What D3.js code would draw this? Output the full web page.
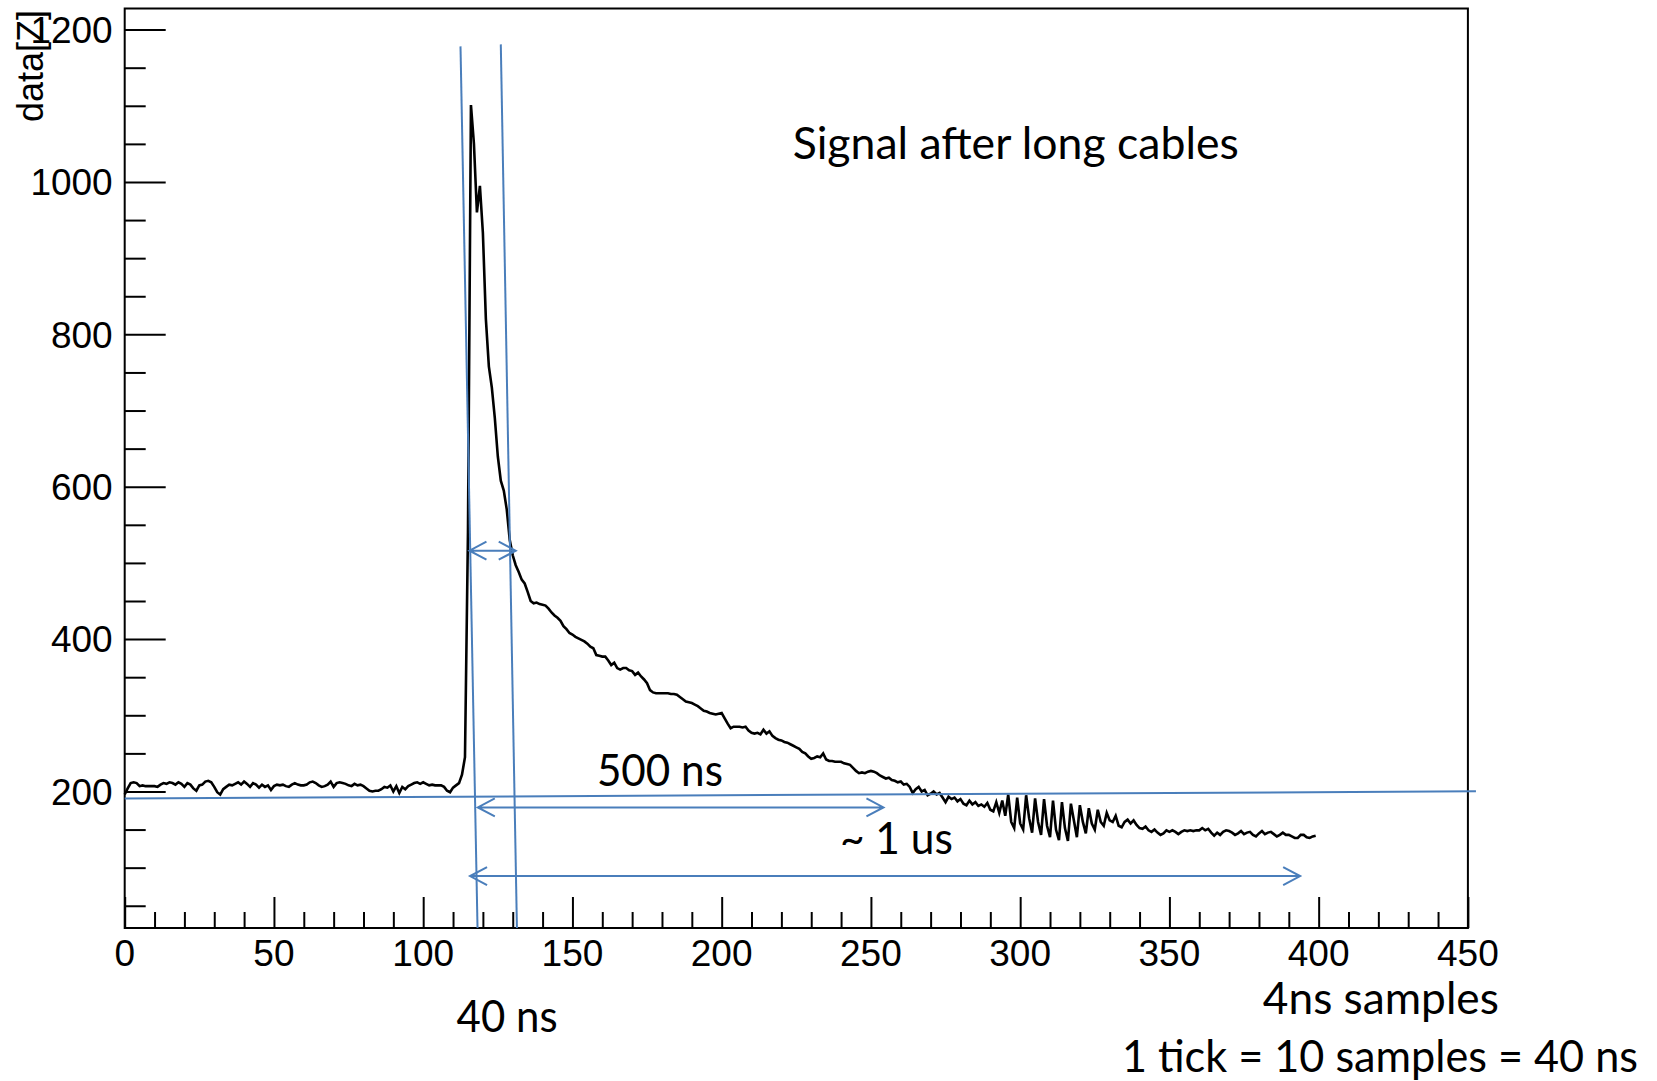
<!DOCTYPE html>
<html>
<head>
<meta charset="utf-8">
<script src="https://cdn.jsdelivr.net/npm/d3@7"></script>
<style>
  body { margin: 0; background: #fff; }
  svg { display: block; }
</style>
</head>
<body>
<svg id="chart"></svg>
<script>
// ADC trace, one value per 4 ns sample (index = sample number)
let signal = [
  196, 204, 211, 212, 211, 207, 208, 207, 207, 207,
  207, 206, 209, 211, 210, 212, 211, 209, 212, 210,
  206, 211, 209, 204, 201, 208, 209, 213, 214, 212,
  206, 199, 196, 203, 206, 209, 208, 210, 212, 209,
  213, 210, 206, 211, 209, 205, 209, 206, 208, 202,
  207, 209, 208, 209, 207, 206, 209, 211, 209, 208,
  208, 209, 212, 213, 211, 208, 206, 207, 209, 213,
  206, 211, 212, 211, 210, 208, 207, 210, 208, 209,
  207, 204, 201, 200, 201, 201, 203, 206, 205, 208,
  200, 207, 198, 206, 203, 207, 209, 211, 212, 210,
  212, 210, 208, 209, 208, 208, 208, 206, 201, 199,
  205, 208, 211, 222, 245, 540, 1101, 1050, 960, 995,
  933, 820, 758, 730, 690, 640, 608, 595, 570, 530,
  510, 497, 488, 478, 473, 462, 450, 447, 448, 446,
  445, 444, 440, 435, 431, 428, 424, 417, 413, 408,
  406, 403, 401, 399, 397, 394, 390, 388, 379, 378,
  377, 377, 372, 366, 369, 362, 360, 362, 362, 359,
  358, 353, 356, 351, 347, 342, 333, 330, 329, 329,
  329, 329, 329, 328, 328, 327, 324, 321, 318, 317,
  316, 314, 312, 309, 306, 305, 303, 302, 301, 302,
  303, 296, 289, 283, 285, 285, 285, 284, 285, 280,
  277, 276, 277, 275, 281, 276, 279, 273, 270, 268,
  267, 265, 264, 262, 260, 258, 256, 252, 250, 246,
  243, 244, 246, 245, 250, 242, 240, 240, 239, 239,
  239, 237, 236, 235, 231, 227, 224, 225, 224, 226,
  227, 226, 224, 221, 219, 217, 218, 215, 214, 212,
  213, 209, 210, 206, 198, 203, 206, 200, 202, 195,
  197, 200, 196, 198, 192, 186, 193, 190, 192, 187,
  190, 184, 182, 188, 183, 186, 181, 183, 180, 185,
  176, 174, 186, 172, 188, 168, 196, 160, 152, 192,
  158, 150, 195, 165, 146, 191, 160, 143, 190, 155,
  140, 188, 150, 136, 186, 152, 135, 184, 162, 140,
  182, 160, 145, 178, 158, 150, 176, 160, 155, 172,
  162, 160, 168, 155, 153, 160, 163, 158, 162, 156,
  152, 151, 154, 149, 147, 150, 146, 143, 145, 149,
  147, 149, 147, 144, 147, 149, 148, 149, 148, 149,
  149, 152, 149, 151, 146, 142, 146, 143, 147, 149,
  148, 146, 143, 145, 148, 144, 146, 147, 143, 141,
  145, 148, 144, 146, 147, 144, 141, 143, 146, 143,
  143, 141, 139, 139, 143, 143, 140, 139, 141, 142
]

let xDomain = [0, 450]
let yDomain = [20.8, 1227.7]
let xMajor = [0, 50, 100, 150, 200, 250, 300, 350, 400, 450]
let yMajor = [200, 400, 600, 800, 1000, 1200]
let yTitle = 'data[Z]'

// blue guide lines drawn over the plot (data units: sample, counts)
let guideLines = [
  [[112.5, 1178], [118.2, 20.8]],
  [[126.0, 1180.6], [131.4, 20.8]],
  [[0, 190.9], [452.7, 200.2]]
]
// double arrows: from sample, to sample, level
let arrows = [
  [115.5, 131.0, 516],
  [118.3, 254.2, 179],
  [115.7, 393.8, 89]
]
// notes: text, sample, level of baseline, width in px
let notes = [
  ['Signal after long cables', 223.8, 1030.8, 446],
  ['500 ns', 158.2, 207.2, 126],
  ['~ 1 us', 239.6, 118, 113],
  ['40 ns', 111.2, -115.7, 101],
  ['4ns samples', 381.3, -92.7, 236],
  ['1 tick = 10 samples = 40 ns', 334.1, -168.2, 516]
]

let W = 1657, H = 1081
let m = {left: 124.7, right: 1467.9, top: 8.5, bottom: 928}
let blue = '#4a7ebb'

let svg = d3.select('#chart').attr('width', W).attr('height', H)

let x = d3.scaleLinear().domain(xDomain).range([m.left, m.right])
let y = d3.scaleLinear().domain(yDomain).range([m.bottom, m.top])

//frame
svg.append('rect')
  .attr('x', m.left).attr('y', m.top)
  .attr('width', m.right - m.left).attr('height', m.bottom - m.top)
  .attr('fill', 'none').attr('stroke', '#000').attr('stroke-width', 2)

//x axis: ticks point up into the frame
let xAxis = d3.axisBottom(x)
  .tickValues(d3.range(0, 451, 10))
  .tickSize(-16)
  .tickFormat('')
let gx = svg.append('g').attr('transform', `translate(0,${m.bottom})`).call(xAxis)
gx.select('.domain').remove()
gx.selectAll('.tick line')
  .attr('stroke-width', 2)
  .attr('y2', d => d % 50 === 0 ? -31 : -16)

svg.append('g').selectAll('text')
  .data(xMajor)
  .join('text')
  .attr('x', d => x(d))
  .attr('y', m.bottom + 38)
  .attr('text-anchor', 'middle')
  .attr('font-family', 'Liberation Sans, Arial, sans-serif')
  .attr('font-size', 37)
  .text(d => d)

//y axis: ticks point right into the frame
let yAxis = d3.axisLeft(y)
  .tickValues(d3.range(50, 1201, 50))
  .tickSize(-21)
  .tickFormat('')
let gy = svg.append('g').attr('transform', `translate(${m.left},0)`).call(yAxis)
gy.select('.domain').remove()
gy.selectAll('.tick line')
  .attr('stroke-width', 2)
  .attr('x2', d => d % 200 === 0 ? 41 : 21)

svg.append('g').selectAll('text')
  .data(yMajor)
  .join('text')
  .attr('x', m.left - 12)
  .attr('y', d => y(d))
  .attr('dy', '0.36em')
  .attr('text-anchor', 'end')
  .attr('font-family', 'Liberation Sans, Arial, sans-serif')
  .attr('font-size', 37)
  .text(d => d)

svg.append('text')
  .attr('transform', 'translate(43,10) rotate(-90)')
  .attr('text-anchor', 'end')
  .attr('font-family', 'Liberation Sans, Arial, sans-serif')
  .attr('font-size', 36)
  .text(yTitle)

//trace
let line = d3.line()
  .x((d, i) => x(i))
  .y(d => y(d))
svg.append('path')
  .datum(signal)
  .attr('d', line)
  .attr('fill', 'none')
  .attr('stroke', '#000')
  .attr('stroke-width', 2.6)

//blue guides
let ann = svg.append('g').attr('stroke', blue).attr('stroke-width', 2).attr('fill', 'none')
ann.selectAll('.guide')
  .data(guideLines)
  .join('line')
  .attr('class', 'guide')
  .attr('x1', d => x(d[0][0])).attr('y1', d => y(d[0][1]))
  .attr('x2', d => x(d[1][0])).attr('y2', d => y(d[1][1]))

let headLen = 17, headDy = 9
ann.selectAll('.arrow')
  .data(arrows)
  .join('path')
  .attr('class', 'arrow')
  .attr('d', d => {
    let x1 = x(d[0]), x2 = x(d[1]), yy = y(d[2])
    return `M${x1},${yy}H${x2}` +
      `M${x1 + headLen},${yy - headDy}L${x1},${yy}L${x1 + headLen},${yy + headDy}` +
      `M${x2 - headLen},${yy - headDy}L${x2},${yy}L${x2 - headLen},${yy + headDy}`
  })

//notes
svg.append('g').selectAll('text')
  .data(notes)
  .join('text')
  .attr('x', d => x(d[1]))
  .attr('y', d => y(d[2]))
  .attr('font-family', 'Lato, Open Sans, sans-serif')
  .attr('font-size', 44)
  .attr('fill', '#000')
  .attr('textLength', d => d[3])
  .attr('lengthAdjust', 'spacingAndGlyphs')
  .text(d => d[0])
</script>
</body>
</html>
